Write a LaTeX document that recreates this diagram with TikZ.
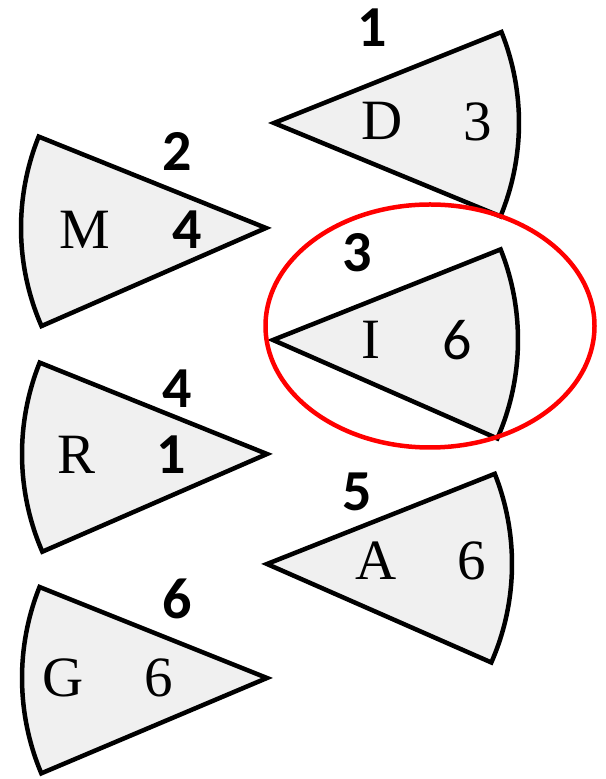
\documentclass[tikz,border=0pt]{standalone}
\usepackage{fontspec}
\newfontfamily\lbl{Carlito}
\newfontfamily\serf{Liberation Serif}
\tikzset{
  wedge/.style={draw=black, fill=wedgegray, line width=4.5pt, line join=miter},
  ser/.style={inner sep=0pt, font=\fontsize{57}{57}\selectfont\serf},
  bnum/.style={inner sep=0pt, font=\fontsize{58}{58}\selectfont\lbl\bfseries},
  rnum/.style={inner sep=0pt, font=\fontsize{58}{58}\selectfont\lbl},
  ring/.style={draw=red, line width=4.5pt}
}
\definecolor{wedgegray}{HTML}{F0F0F0}
\begin{document}
\begin{tikzpicture}[x=1pt,y=1pt]
\useasboundingbox (0,0) rectangle (605,779);
% wedge 1 (opens right)
\coordinate (a1) at (274,656);
\draw[wedge] (a1) -- ++(21.8:245) arc[start angle=21.8, end angle=-22.4, radius=245] -- cycle;
% wedge 2 (opens left)
\coordinate (a2) at (266,551);
\draw[wedge] (a2) -- ++(158.1:245) arc[start angle=158.1, end angle=203.6, radius=245] -- cycle;
% wedge 3
\coordinate (a3) at (273,439);
\draw[wedge] (a3) -- ++(21.7:245) arc[start angle=21.7, end angle=-23.7, radius=245] -- cycle;
% wedge 4
\coordinate (a4) at (267,325);
\draw[wedge] (a4) -- ++(158.1:245) arc[start angle=158.1, end angle=203.5, radius=245] -- cycle;
% wedge 5
\coordinate (a5) at (267,215);
\draw[wedge] (a5) -- ++(21.6:245) arc[start angle=21.6, end angle=-23.7, radius=245] -- cycle;
% wedge 6
\coordinate (a6) at (267,101);
\draw[wedge] (a6) -- ++(158.2:245) arc[start angle=158.2, end angle=202.9, radius=245] -- cycle;

% numbers above
\node[bnum] (n1) at (372,751) {1};
\node[bnum] (n2) at (177,628) {2};
\node[bnum] (n3) at (357,526) {3};
\node[bnum] (n4) at (177,390) {4};
\node[bnum] (n5) at (357,287) {5};
\node[bnum] (n6) at (177,180) {6};

% inner texts
\node[ser] (d) at (382,658) {D};
\node[ser] (d3) at (478,657) {3};
\node[ser] (m) at (84.5,549) {M};
\node[bnum] (m4) at (187.5,549) {4};
\node[ser] (i) at (371,439.5) {I};
\node[rnum] (i6) at (457,439) {6};
\node[ser] (r) at (77,324) {R};
\node[bnum] (r1) at (171,324) {1};
\node[ser] (aa) at (376.5,218) {A};
\node[ser] (a6t) at (472,218) {6};
\node[ser] (g) at (63.5,101) {G};
\node[ser] (g6) at (159,101) {6};

% red ellipse
\draw[ring] (430,453) ellipse [x radius=164.5, y radius=121.5];
\end{tikzpicture}
\end{document}
